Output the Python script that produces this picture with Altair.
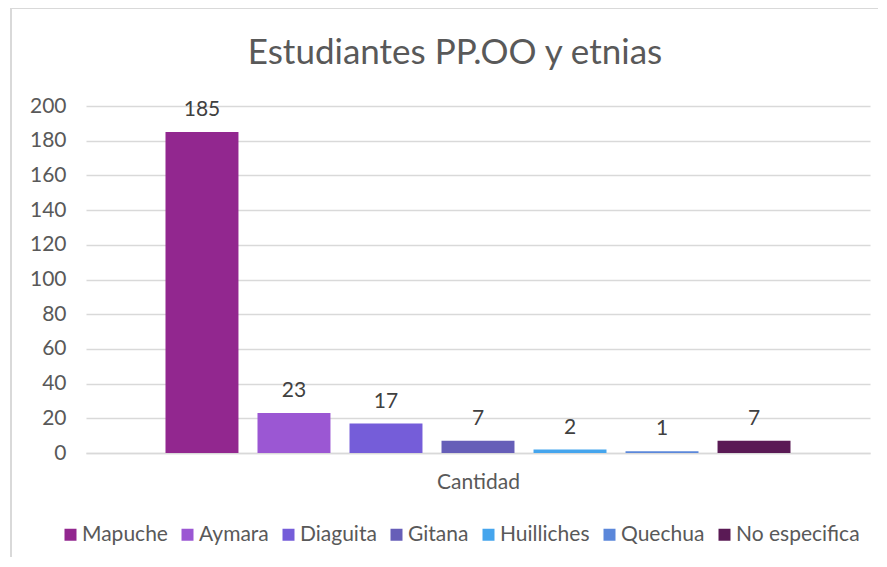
import altair as alt
import pandas as pd

etnias = ["Mapuche", "Aymara", "Diaguita", "Gitana", "Huilliches", "Quechua", "No especifica"]
cantidad = [185, 23, 17, 7, 2, 1, 7]
colores = ["#92278F", "#9B57D3", "#755DD9", "#665EB8", "#45A5ED", "#5B87DA", "#5A1A55"]
y_ticks = [0, 20, 40, 60, 80, 100, 120, 140, 160, 180, 200]

df = pd.DataFrame({"etnia": etnias, "cantidad": cantidad})

FONT = "Lato"
GRAY = "#595959"

x_enc = alt.X("etnia:N", sort=etnias,
              scale=alt.Scale(paddingInner=0.207, paddingOuter=0.864),
              axis=alt.Axis(title="Cantidad", labels=False, ticks=False, domain=True,
                            domainColor="#d9d9d9", domainWidth=1.5,
                            titleFont=FONT, titleFontSize=21, titleFontWeight="normal",
                            titleColor=GRAY, titlePadding=18))
y_enc = alt.Y("cantidad:Q", scale=alt.Scale(domain=[0, 200], nice=False),
              axis=alt.Axis(title=None, values=y_ticks, ticks=False, domain=False,
                            labelOverlap=False,
                            labelFont=FONT, labelFontSize=21, labelColor=GRAY,
                            labelPadding=20, gridColor="#d9d9d9", gridWidth=1.5))

bars = alt.Chart(df).mark_bar().encode(
    x=x_enc, y=y_enc,
    color=alt.Color("etnia:N", sort=etnias,
                    scale=alt.Scale(domain=etnias, range=colores),
                    legend=alt.Legend(title=None, orient="none", direction="horizontal",
                                      columns=7, legendX=-26, legendY=418,
                                      symbolType="square", symbolSize=144,
                                      symbolStrokeWidth=0, symbolOpacity=1,
                                      labelFont=FONT, labelFontSize=21, labelColor=GRAY,
                                      labelOffset=1, columnPadding=9)),
)

labels = alt.Chart(df).mark_text(font=FONT, fontSize=21, color="#404040",
                                 baseline="alphabetic", dy=-16).encode(
    x=x_enc, y=y_enc, text="cantidad:Q")

title = alt.Chart(pd.DataFrame({"t": ["Estudiantes PP.OO y etnias"]})).mark_text(
    font=FONT, fontSize=35, color=GRAY, baseline="alphabetic", align="center").encode(
    x=alt.value(369), y=alt.value(-42), text="t:N")

border_left = alt.Chart(pd.DataFrame({"a": [0]})).mark_rule(color="#d9d9d9", strokeWidth=2).encode(
    x=alt.value(-75), y=alt.value(-98), y2=alt.value(470))
border_top = alt.Chart(pd.DataFrame({"a": [0]})).mark_rule(color="#d9d9d9", strokeWidth=2).encode(
    x=alt.value(-75), x2=alt.value(900), y=alt.value(-98))

chart = alt.layer(border_left, border_top, bars, labels, title).properties(
    width=784, height=347,
    autosize=alt.AutoSizeParams(type="none"),
    padding={"left": 78, "top": 98, "right": 8, "bottom": 104},
).configure_view(stroke=None)

chart.save("out.html", embed_options={"renderer": "svg", "actions": False})
